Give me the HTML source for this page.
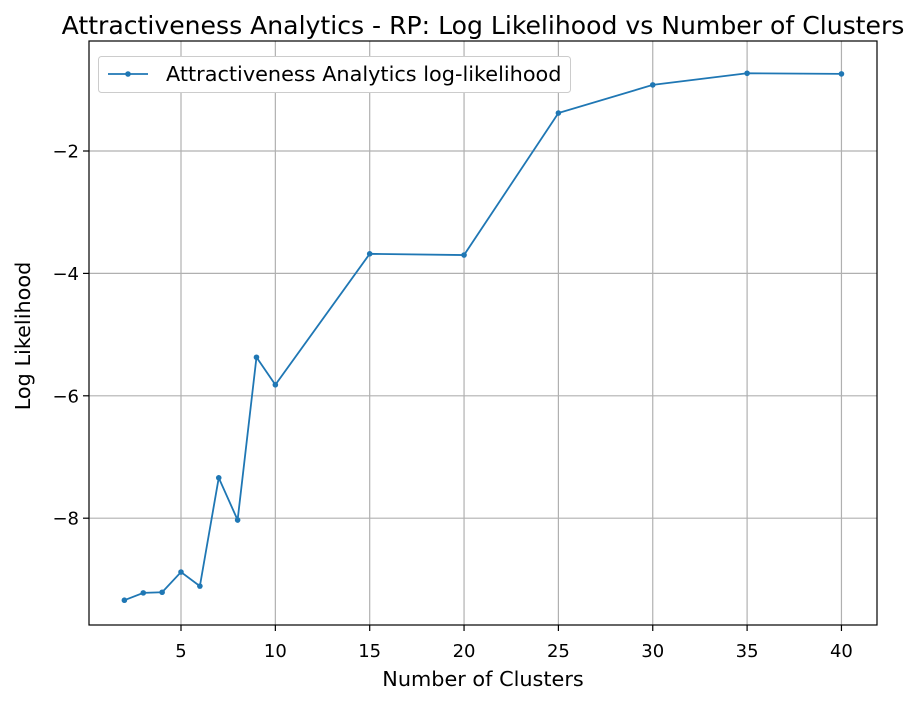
<!DOCTYPE html>
<html><head><meta charset="utf-8"><style>
html,body{margin:0;padding:0;background:#fff;}
svg{display:block;font-family:"DejaVu Sans","Liberation Sans",sans-serif;}
</style></head><body>
<svg id="chart" width="919" height="704">
<text x="483" y="34" text-anchor="middle" font-size="25.1" fill="#000">Attractiveness Analytics - RP: Log Likelihood vs Number of Clusters</text>
<text x="483" y="686" text-anchor="middle" font-size="20.8" fill="#000">Number of Clusters</text>
<text x="30" y="336" text-anchor="middle" font-size="20.8" fill="#000" transform="rotate(-90 30 336)">Log Likelihood</text>
</svg>
<script>
const clusters=[2,3,4,5,6,7,8,9,10,15,20,25,30,35,40];
const logLik=[-9.34,-9.22,-9.21,-8.88,-9.11,-7.34,-8.03,-5.37,-5.82,-3.68,-3.70,-1.38,-0.92,-0.73,-0.74];
const xTicks=[5,10,15,20,25,30,35,40];
const yTicks=[-2,-4,-6,-8];
const yTickLabels=["\u22122","\u22124","\u22126","\u22128"];
const L=89,R=877,T=41,B=625;
const xS=v=>181+(v-5)*18.87;
const yS=v=>151+(-2-v)*61.2;
const svg=document.getElementById('chart');
const NS='http://www.w3.org/2000/svg';
function mk(tag,a){const e=document.createElementNS(NS,tag);for(const k in a)e.setAttribute(k,a[k]);svg.appendChild(e);return e;}
xTicks.forEach(t=>{
 const x=xS(t);
 const g=mk('line',{x1:x,x2:x,y1:T,y2:B,stroke:'#b0b0b0','stroke-width':1.2});
 
 
 mk('line',{x1:x,x2:x,y1:B,y2:B+6,stroke:'#000','stroke-width':1.2});
 const tx=mk('text',{x:x,y:B+32,'text-anchor':'middle','font-size':18});
 tx.textContent=t;
 
 
});
yTicks.forEach((t,i)=>{
 const y=yS(t);
 const g=mk('line',{x1:L,x2:R,y1:y,y2:y,stroke:'#b0b0b0','stroke-width':1.2});
 
 
 mk('line',{x1:L-6,x2:L,y1:y,y2:y,stroke:'#000','stroke-width':1.2});
 const tx=mk('text',{x:L-10,y:y+6.5,'text-anchor':'end','font-size':18});
 tx.textContent=yTickLabels[i];
 
 
});
const fr=mk('rect',{x:L,y:T,width:R-L,height:B-T,fill:'none',stroke:'#000','stroke-width':1.2});


const pts=clusters.map((c,i)=>xS(c)+','+yS(logLik[i])).join(' ');
const pl=mk('polyline',{points:pts,fill:'none',stroke:'#1f77b4','stroke-width':1.8});


clusters.forEach((c,i)=>{
 const p=mk('circle',{cx:xS(c),cy:yS(logLik[i]),r:2.8,fill:'#1f77b4'});
 
 
});
const lg=mk('rect',{x:98.5,y:56.5,width:472,height:36,rx:3,fill:'#fff',stroke:'#ccc'});


const ll=mk('line',{x1:108,x2:148,y1:74,y2:74,stroke:'#1f77b4','stroke-width':1.8});


const lm=mk('circle',{cx:128,cy:74,r:2.8,fill:'#1f77b4'});


const lt=mk('text',{x:166,y:81,'font-size':20.8});
lt.textContent='Attractiveness Analytics log-likelihood';


</script>
</body></html>
